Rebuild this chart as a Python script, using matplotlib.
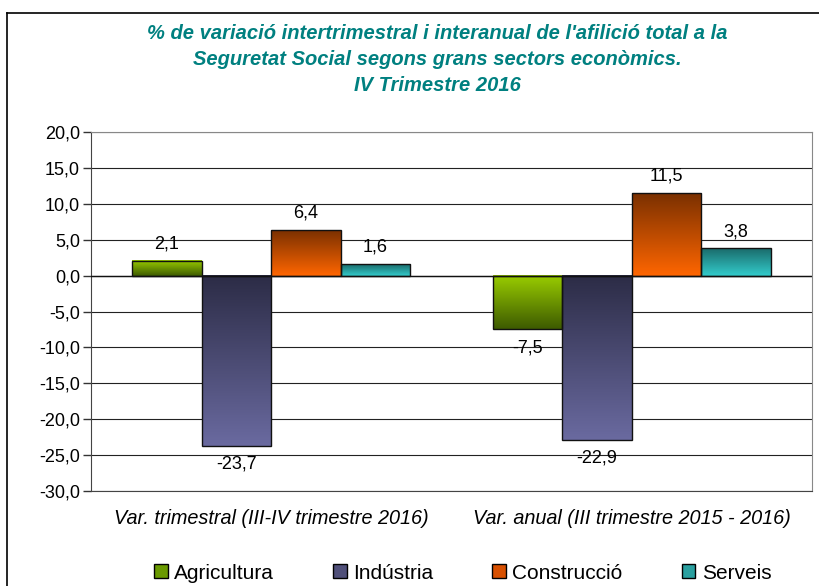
import numpy as np
import matplotlib
import matplotlib.pyplot as plt
from matplotlib.colors import LinearSegmentedColormap
from matplotlib.patches import Patch
from matplotlib.lines import Line2D
from matplotlib.ticker import FuncFormatter

matplotlib.use('Agg')
plt.rcParams['font.family'] = ['Liberation Sans', 'DejaVu Sans']

# --- dades ---
categories = ['Var. trimestral (III-IV trimestre 2016)',
              'Var. anual (III trimestre 2015 - 2016)']
sectors = ['Agricultura', 'Indústria', 'Construcció', 'Serveis']
agricultura = [2.1, -7.5]
industria = [-23.7, -22.9]
construccio = [6.4, 11.5]
serveis = [1.6, 3.8]
series = [agricultura, industria, construccio, serveis]

# gradient (dalt, baix) per sector
grad_colors = [('#9acd00', '#3d5a00'),
               ('#2c2c46', '#6a6aa0'),
               ('#7a3000', '#ff6600'),
               ('#1a6a6a', '#33cccc')]
legend_colors = ['#6a9a00', '#50507a', '#d85000', '#2aa0a0']

fig = plt.figure(figsize=(8.19, 5.86), dpi=100)
ax = fig.add_axes([0.1111, 0.1621, 0.8804, 0.6126])

x = np.arange(len(categories))
width = 0.193
offsets = (np.arange(len(sectors)) - 1.5) * width

grad = np.linspace(0, 1, 256).reshape(-1, 1)
for i, vals in enumerate(series):
    bars = ax.bar(x + offsets[i], vals, width, facecolor='none',
                  edgecolor='#111111', linewidth=1.0, zorder=3)
    cmap = LinearSegmentedColormap.from_list('g%d' % i, grad_colors[i])
    for rect, v in zip(bars, vals):
        x0, y0 = rect.get_x(), rect.get_y()
        w, h = rect.get_width(), rect.get_height()
        lo, hi = min(y0, y0 + h), max(y0, y0 + h)
        ax.imshow(grad, extent=[x0, x0 + w, lo, hi], origin='upper',
                  cmap=cmap, aspect='auto', zorder=2)
        lbl = ('%.1f' % v).replace('.', ',')
        ax.annotate(lbl, (x0 + w / 2, v), xytext=(0, 12 if v > 0 else -13),
                    textcoords='offset points', ha='center', va='center',
                    fontsize=13, color='black', zorder=4)

ax.set_xlim(-0.5, 1.5)
ax.set_ylim(-30, 20)
ax.set_yticks(np.arange(-30, 21, 5))
ax.yaxis.set_major_formatter(FuncFormatter(lambda v, p: ('%.1f' % v).replace('.', ',')))
ax.tick_params(axis='y', direction='out', length=6, labelsize=13, width=1,
               color='#333333', pad=2)
ax.set_xticks(x)
ax.set_xticklabels(categories, fontsize=14.3, style='italic')
ax.tick_params(axis='x', length=0, pad=13)
ax.yaxis.grid(True, color='#222222', linewidth=0.8, zorder=0)
ax.set_axisbelow(True)
ax.axhline(0, color='#111111', linewidth=1.0, zorder=3)
for s in ['top', 'right']:
    ax.spines[s].set_color('#888888')
ax.spines['left'].set_color('#444444')
ax.spines['bottom'].set_color('#444444')

fig.text(0.5336, 0.898,
         "% de variació intertrimestral i interanual de l'afilició total a la\n"
         "Seguretat Social segons grans sectors econòmics.\n"
         "IV Trimestre 2016",
         ha='center', va='center', fontsize=14.5, fontweight='bold',
         style='italic', color='#008080', linespacing=1.48)

handles = [Patch(facecolor=c, edgecolor='black', linewidth=1) for c in legend_colors]
fig.legend(handles, sectors, loc='center', bbox_to_anchor=(0.565, 0.022), ncol=4,
           frameon=False, fontsize=15, handlelength=0.65, handleheight=0.65,
           handletextpad=0.3, columnspacing=2.85)

# marc de la figura
fig.add_artist(Line2D([7 / 819, 7 / 819], [0, 1 - 13 / 586], color='black', lw=1.2))
fig.add_artist(Line2D([7 / 819, 1], [1 - 13 / 586, 1 - 13 / 586], color='black', lw=1.2))

fig.savefig('out.png', dpi=100)
